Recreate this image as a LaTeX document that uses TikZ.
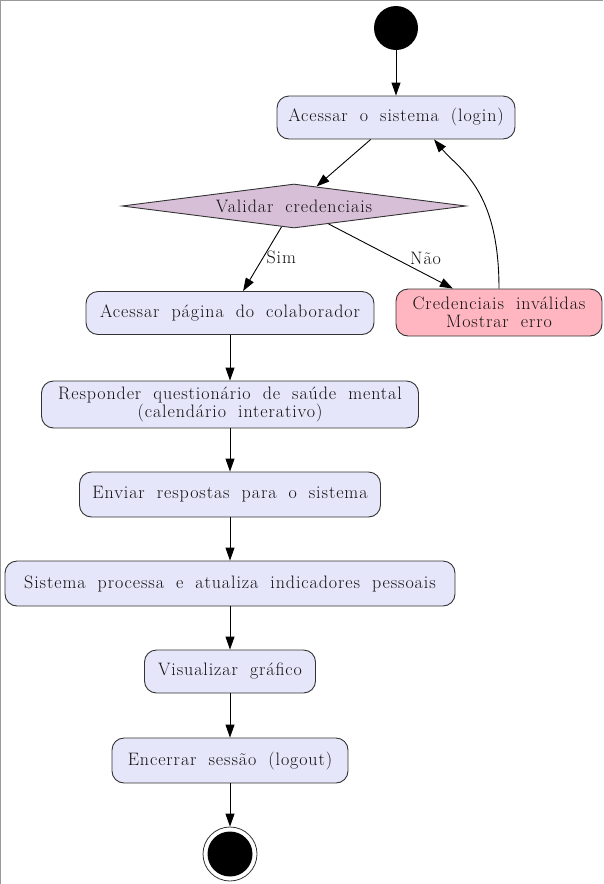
\documentclass[tikz,border=0pt]{standalone}
\usepackage{fontspec}
\setmainfont{Latin Modern Roman}[LetterSpace=5, WordSpace=1.9]
\usetikzlibrary{shapes.geometric,arrows.meta,calc}
\definecolor{boxfill}{HTML}{E6E6FA}
\definecolor{dfill}{HTML}{D8BFD8}
\definecolor{errfill}{HTML}{FFB6C1}
\definecolor{edge}{HTML}{333333}
\definecolor{txt}{HTML}{111111}
\tikzset{
  act/.style={draw=edge, line width=0.9pt, fill=boxfill, rounded corners=12pt, inner sep=0pt, align=center, text=txt, font=\fontsize{18}{18}\selectfont},
  err/.style={act, fill=errfill},
  dec/.style={diamond, draw=edge, line width=0.9pt, fill=dfill, inner sep=0pt, shape aspect=7.8, text=txt, font=\fontsize{18}{18}\selectfont},
  conn/.style={draw=black, line width=0.9pt, -{Triangle[length=13pt,width=9pt]}},
  lbl/.style={text=txt, font=\fontsize{18}{18}\selectfont, inner sep=0pt}
}
\begin{document}
\begin{tikzpicture}[x=1pt,y=-1pt]
\useasboundingbox (0,0) rectangle (603,884);
\draw[gray!80, line width=1.2pt] (0.6,884) -- (0.6,0.6) -- (603,0.6);
\node[circle, fill=black, minimum size=44pt, inner sep=0pt] (start) at (396,28) {};
\node[act, minimum width=238pt, minimum height=43pt] (login) at (396,117.5) {Acessar o sistema (login)};
\node[dec, minimum width=344pt, minimum height=44pt] (valid) at (294,206) {Validar credenciais};
\node[act, minimum width=288pt, minimum height=43pt] (pag) at (230,313) {Acessar página do colaborador};
\node[err, minimum width=206pt, minimum height=47pt] (cred) at (499,312.5) {Credenciais inválidas\\Mostrar erro};
\node[act, minimum width=377pt, minimum height=47pt] (resp) at (230,404.5) {Responder questionário de saúde mental\\(calendário interativo)};
\node[act, minimum width=301pt, minimum height=45pt] (env) at (230,494.5) {Enviar respostas para o sistema};
\node[act, minimum width=450pt, minimum height=45pt] (proc) at (230,583.5) {Sistema processa e atualiza indicadores pessoais};
\node[act, minimum width=171pt, minimum height=43pt] (vis) at (230,671.5) {Visualizar gráfico};
\node[act, minimum width=236pt, minimum height=45pt] (enc) at (230,760.5) {Encerrar sessão (logout)};
\node[circle, draw=edge, line width=0.8pt, fill=white, minimum size=54pt, inner sep=0pt,
  path picture={\fill[black] (path picture bounding box.center) circle (22.5pt);}] (end) at (230,854) {};
\draw[conn] (start) -- (login);
\draw[conn] (login) -- (valid);
\draw[conn] (valid) -- node[lbl, pos=0.48, anchor=west, xshift=3pt] {Sim} (pag);
\draw[conn] (valid) -- node[lbl, pos=0.78, anchor=south, yshift=9pt] {Não} (cred);
\draw[conn] (cred.north) .. controls +(0,-100) and +(25,30) .. (login.-30);
\draw[conn] (pag) -- (resp);
\draw[conn] (resp) -- (env);
\draw[conn] (env) -- (proc);
\draw[conn] (proc) -- (vis);
\draw[conn] (vis) -- (enc);
\draw[conn] (enc) -- (end);
\end{tikzpicture}
\end{document}
